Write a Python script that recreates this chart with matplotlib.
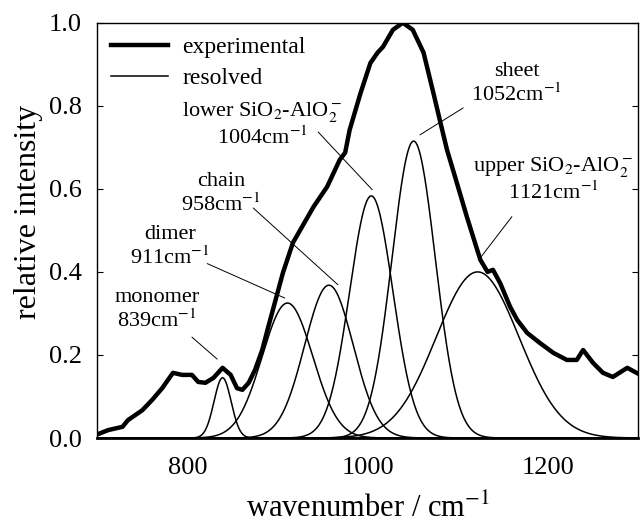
import numpy as np
import matplotlib
matplotlib.use('Agg')
import matplotlib.pyplot as plt

plt.rcParams['font.family'] = ['Liberation Serif', 'DejaVu Serif']
plt.rcParams['mathtext.fontset'] = 'stix'

# experimental spectrum
exp_x = [698, 712, 728, 734, 750, 761, 772, 784, 794, 805, 812, 820, 829, 839,
         848, 855, 861, 868, 875, 883, 890, 906, 917, 940, 955, 969, 975, 980,
         992, 1003, 1011, 1017, 1028, 1039, 1050, 1062, 1073, 1080, 1088, 1099,
         1110, 1125, 1133, 1139, 1147, 1158, 1166, 1177, 1191, 1206, 1221,
         1232, 1239, 1250, 1261, 1272, 1288, 1300]
exp_y = [0.007, 0.019, 0.027, 0.043, 0.067, 0.092, 0.12, 0.157, 0.152, 0.152,
         0.135, 0.133, 0.145, 0.169, 0.152, 0.12, 0.116, 0.133, 0.164, 0.212,
         0.27, 0.398, 0.47, 0.557, 0.605, 0.67, 0.687, 0.742, 0.83, 0.903,
         0.928, 0.942, 0.983, 1.0, 0.983, 0.928, 0.83, 0.766, 0.694, 0.614,
         0.533, 0.429, 0.40, 0.405, 0.373, 0.316, 0.284, 0.253, 0.229, 0.205,
         0.188, 0.188, 0.212, 0.181, 0.157, 0.147, 0.169, 0.155]

# resolved gaussian bands
band_names = ['monomer', 'dimer', 'chain', 'lower', 'sheet', 'upper']
band_center = [839, 911, 957, 1004, 1051, 1122]
band_height = [0.145, 0.325, 0.368, 0.583, 0.715, 0.40]
band_sigma = [9.5, 28, 27, 24, 24, 46]

# annotation labels: text, text centre, line start, line end
label_text = ['monomer\n839cm$^{-1}$', 'dimer\n911cm$^{-1}$', 'chain\n958cm$^{-1}$',
              'lower SiO$_2$-AlO$_2^-$\n1004cm$^{-1}$', 'sheet\n1052cm$^{-1}$',
              'upper SiO$_2$-AlO$_2^-$\n1121cm$^{-1}$']
label_pos = [(766, 0.308), (781, 0.46), (837, 0.588), (883, 0.754),
             (1165, 0.853), (1206, 0.622)]
line_start = [(805, 0.243), (822, 0.42), (873, 0.554), (945, 0.737),
              (1106, 0.795), (1160, 0.533)]
line_end = [(833, 0.19), (908, 0.337), (967, 0.369), (1005, 0.598),
            (1058, 0.73), (1125, 0.434)]

fig = plt.figure(figsize=(6.4, 5.29), dpi=100)
ax = fig.add_axes([0.152, 0.172, 0.845, 0.785])

ax.plot(exp_x, exp_y, color='black', lw=3.2, label='experimental')
xx = np.linspace(700, 1300, 1200)
for i, (c, h, s) in enumerate(zip(band_center, band_height, band_sigma)):
    ax.plot(xx, h * np.exp(-0.5 * ((xx - c) / s) ** 2), color='black', lw=1.1,
            label='resolved' if i == 0 else None)

for text, pos, p0, p1 in zip(label_text, label_pos, line_start, line_end):
    ax.text(pos[0], pos[1], text, ha='center', va='center', fontsize=16,
            linespacing=1.15)
    ax.annotate('', xy=p1, xytext=p0,
                arrowprops=dict(arrowstyle='-', color='black', lw=0.7,
                                shrinkA=0, shrinkB=0))

ax.set_xlim(700, 1300)
ax.set_ylim(0, 1.0)
ax.set_xticks([800, 1000, 1200])
ax.set_yticks([0.0, 0.2, 0.4, 0.6, 0.8, 1.0])
ax.set_yticklabels(['0.0', '0.2', '0.4', '0.6', '0.8', '1.0'])
ax.tick_params(axis='y', direction='in', length=4, right=True, labelsize=19,
               pad=11)
ax.tick_params(axis='x', length=0, labelsize=19, pad=14)
for sp in ax.spines.values():
    sp.set_linewidth(1.0)
ax.spines['bottom'].set_linewidth(2.0)
ax.set_xlabel('wavenumber / cm$^{-1}$', fontsize=22, labelpad=10)
ax.set_ylabel('relative intensity', fontsize=23)
ax.yaxis.set_label_coords(-0.10, 0.545)

ax.legend(loc='upper left', frameon=False, fontsize=17, handlelength=2.4,
          handletextpad=0.6, borderaxespad=0.2, labelspacing=0.4)

fig.savefig('out.png', dpi=100)
